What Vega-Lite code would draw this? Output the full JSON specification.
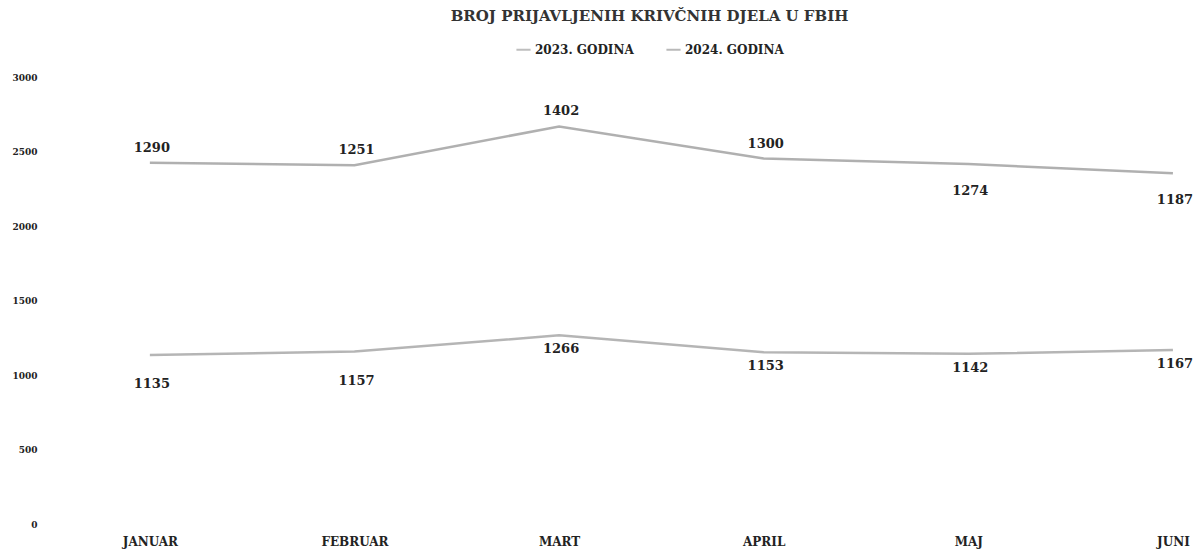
{
  "$schema": "https://vega.github.io/schema/vega-lite/v6.json",
  "width": 1145,
  "height": 447,
  "autosize": {"type": "none"},
  "padding": {"left": 45, "top": 77, "right": 7, "bottom": 27},
  "background": "white",
  "title": {
    "text": "BROJ PRIJAVLJENIH KRIVČNIH DJELA U FBIH",
    "font": "DejaVu Serif",
    "fontSize": 15,
    "fontWeight": "bold",
    "color": "#333333",
    "anchor": "middle",
    "frame": "group",
    "dx": 32,
    "offset": 17
  },
  "data": {
    "values": [
      {"month": "JANUAR", "series": "2023. GODINA", "value": 1135},
      {"month": "FEBRUAR", "series": "2023. GODINA", "value": 1157},
      {"month": "MART", "series": "2023. GODINA", "value": 1266},
      {"month": "APRIL", "series": "2023. GODINA", "value": 1153},
      {"month": "MAJ", "series": "2023. GODINA", "value": 1142},
      {"month": "JUNI", "series": "2023. GODINA", "value": 1167},
      {"month": "JANUAR", "series": "2024. GODINA", "value": 1290},
      {"month": "FEBRUAR", "series": "2024. GODINA", "value": 1251},
      {"month": "MART", "series": "2024. GODINA", "value": 1402},
      {"month": "APRIL", "series": "2024. GODINA", "value": 1300},
      {"month": "MAJ", "series": "2024. GODINA", "value": 1274},
      {"month": "JUNI", "series": "2024. GODINA", "value": 1187}
    ]
  },
  "transform": [
    {"stack": "value", "groupby": ["month"], "sort": [{"field": "series", "order": "ascending"}], "as": ["lo", "hi"]}
  ],
  "encoding": {
    "x": {
      "field": "month",
      "type": "nominal",
      "sort": ["JANUAR", "FEBRUAR", "MART", "APRIL", "MAJ", "JUNI"],
      "scale": {"type": "point", "padding": 0.298, "align": 0.86},
      "axis": {
        "title": null,
        "domain": false,
        "ticks": false,
        "grid": false,
        "labelAngle": 0,
        "labelFont": "DejaVu Serif",
        "labelFontWeight": "bold",
        "labelFontSize": 12,
        "labelColor": "#222222",
        "labelPadding": 12
      }
    },
    "y": {
      "field": "hi",
      "type": "quantitative",
      "scale": {"domain": [0, 3000], "nice": false},
      "axis": {
        "title": null,
        "domain": false,
        "ticks": false,
        "grid": false,
        "format": "d",
        "values": [0, 500, 1000, 1500, 2000, 2500, 3000],
        "labelFont": "DejaVu Serif",
        "labelFontWeight": "bold",
        "labelFontSize": 9,
        "labelColor": "#222222",
        "labelPadding": 8
      }
    }
  },
  "layer": [
    {
      "mark": {"type": "line", "strokeWidth": 2.5, "opacity": 0.8},
      "encoding": {
        "color": {
          "field": "series",
          "type": "nominal",
          "scale": {"range": ["#a3a3a3", "#9c9c9c"]},
          "legend": {
            "title": null,
            "orient": "none",
            "legendX": 470,
            "legendY": -36,
            "direction": "horizontal",
            "symbolType": "stroke",
            "symbolSize": 200,
            "symbolStrokeWidth": 2,
            "symbolOpacity": 0.7,
            "labelFont": "DejaVu Serif",
            "labelFontWeight": "bold",
            "labelFontSize": 12,
            "labelColor": "#222222",
            "columnPadding": 28,
            "labelOffset": 3
          }
        }
      }
    },
    {
      "transform": [{"filter": "datum.series == '2024. GODINA' && indexof(['JANUAR','FEBRUAR','MART','APRIL'], datum.month) >= 0"}],
      "mark": {"type": "text", "font": "DejaVu Serif", "fontWeight": "bold", "fontSize": 13, "color": "#222222", "dy": -15, "dx": 2},
      "encoding": {"text": {"field": "value", "type": "quantitative"}}
    },
    {
      "transform": [{"filter": "datum.series == '2024. GODINA' && indexof(['MAJ','JUNI'], datum.month) >= 0"}],
      "mark": {"type": "text", "font": "DejaVu Serif", "fontWeight": "bold", "fontSize": 13, "color": "#222222", "dy": 27, "dx": 2},
      "encoding": {"text": {"field": "value", "type": "quantitative"}}
    },
    {
      "transform": [{"filter": "datum.series == '2023. GODINA' && indexof(['JANUAR','FEBRUAR'], datum.month) >= 0"}],
      "mark": {"type": "text", "font": "DejaVu Serif", "fontWeight": "bold", "fontSize": 13, "color": "#222222", "dy": 29, "dx": 2},
      "encoding": {"text": {"field": "value", "type": "quantitative"}}
    },
    {
      "transform": [{"filter": "datum.series == '2023. GODINA' && indexof(['MART','APRIL','MAJ','JUNI'], datum.month) >= 0"}],
      "mark": {"type": "text", "font": "DejaVu Serif", "fontWeight": "bold", "fontSize": 13, "color": "#222222", "dy": 14, "dx": 2},
      "encoding": {"text": {"field": "value", "type": "quantitative"}}
    }
  ],
  "config": {"view": {"stroke": null}}
}
